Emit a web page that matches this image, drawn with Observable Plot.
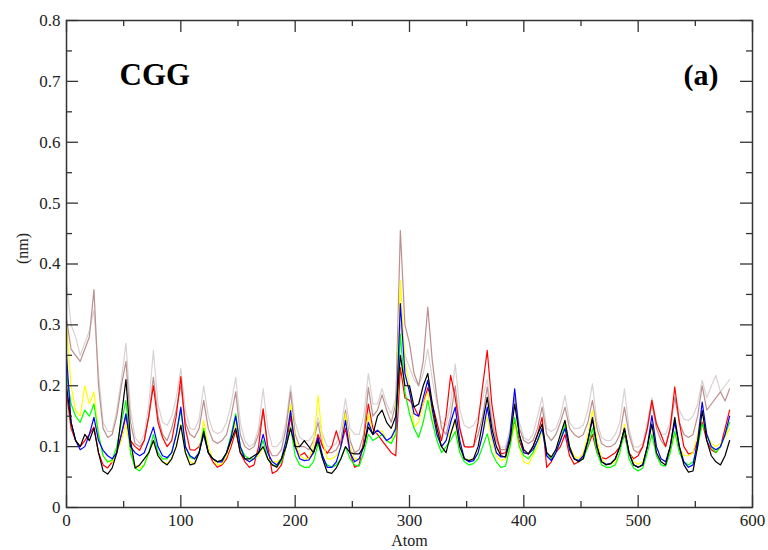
<!DOCTYPE html>
<html><head><meta charset="utf-8">
<script src="https://cdn.jsdelivr.net/npm/d3@7"></script>
<script src="https://cdn.jsdelivr.net/npm/@observablehq/plot@0.6"></script>
<style>body{margin:0;background:#fff}</style>
</head><body><div id="chart"></div>
<script>
// Atom index sampled every 4 atoms (0..580)
const atoms = d3.range(0, 581, 4);

const black = [
0.20,0.14,0.11,0.10,0.12,0.11,0.13,
0.09,0.06,0.055,0.065,0.09,0.15,0.21,
0.11,0.065,0.07,0.08,0.09,0.11,
0.085,0.075,0.07,0.08,0.1,0.135,
0.09,0.07,0.072,0.09,0.125,
0.09,0.08,0.075,0.078,0.09,0.11,0.13,
0.09,0.08,0.08,0.085,0.09,0.1,
0.08,0.07,0.066,0.08,0.1,0.13,
0.1,0.1,0.11,0.1,0.09,0.11,
0.08,0.058,0.056,0.065,0.08,0.1,
0.09,0.088,0.088,0.1,0.132,
0.12,0.15,0.16,0.14,0.13,0.15,0.25,
0.2,0.2,0.165,0.17,0.2,0.22,
0.17,0.13,0.1,0.09,0.12,0.145,
0.1,0.08,0.077,0.08,0.1,0.14,0.181,
0.13,0.1,0.085,0.083,0.11,0.17,
0.12,0.095,0.088,0.1,0.12,0.137,
0.09,0.083,0.095,0.12,0.143,
0.1,0.08,0.075,0.08,0.11,0.145,
0.1,0.075,0.07,0.072,0.08,0.1,0.13,
0.09,0.07,0.066,0.07,0.1,0.137,
0.09,0.075,0.07,0.1,0.148,
0.1,0.07,0.058,0.06,0.1,0.159,
0.11,0.085,0.075,0.07,0.085,0.11];

const red = [
0.19,0.13,0.11,0.10,0.11,0.12,0.132,
0.09,0.07,0.065,0.075,0.09,0.12,0.15,
0.11,0.1,0.094,0.11,0.15,0.2,
0.14,0.115,0.1,0.11,0.15,0.215,
0.13,0.095,0.094,0.1,0.12,
0.09,0.075,0.066,0.07,0.08,0.1,0.126,
0.09,0.075,0.066,0.07,0.1,0.162,
0.1,0.056,0.06,0.07,0.1,0.15,
0.1,0.085,0.09,0.08,0.09,0.12,
0.1,0.089,0.1,0.126,0.1,0.13,
0.09,0.066,0.07,0.11,0.17,
0.13,0.12,0.11,0.1,0.09,0.085,0.23,
0.18,0.176,0.165,0.15,0.17,0.197,
0.17,0.14,0.11,0.15,0.217,0.18,
0.13,0.1,0.099,0.1,0.14,0.2,0.258,
0.17,0.12,0.088,0.09,0.11,0.14,
0.11,0.09,0.088,0.1,0.12,0.148,
0.066,0.075,0.09,0.1,0.12,
0.085,0.071,0.075,0.085,0.1,0.12,
0.09,0.082,0.08,0.085,0.09,0.1,0.12,
0.09,0.08,0.085,0.1,0.13,0.176,
0.137,0.12,0.1,0.13,0.198,
0.14,0.1,0.088,0.09,0.11,0.14,
0.11,0.095,0.09,0.1,0.13,0.16];

const green = [
0.22,0.17,0.15,0.14,0.16,0.15,0.17,
0.12,0.085,0.075,0.078,0.1,0.14,0.176,
0.09,0.065,0.06,0.07,0.09,0.12,
0.09,0.08,0.08,0.09,0.12,0.16,
0.1,0.082,0.08,0.09,0.13,
0.09,0.08,0.075,0.078,0.09,0.12,0.154,
0.1,0.085,0.08,0.08,0.09,0.11,
0.08,0.07,0.068,0.075,0.1,0.132,
0.085,0.07,0.066,0.066,0.075,0.105,
0.08,0.07,0.066,0.07,0.08,0.1,
0.08,0.07,0.068,0.09,0.12,
0.11,0.115,0.12,0.11,0.105,0.12,0.285,
0.19,0.154,0.13,0.115,0.14,0.176,
0.14,0.11,0.09,0.1,0.11,0.125,
0.09,0.075,0.07,0.072,0.08,0.1,0.121,
0.09,0.075,0.066,0.068,0.1,0.148,
0.1,0.085,0.08,0.09,0.11,0.13,
0.09,0.08,0.09,0.11,0.137,
0.095,0.08,0.077,0.08,0.1,0.13,
0.09,0.07,0.066,0.066,0.07,0.09,0.125,
0.08,0.065,0.06,0.065,0.09,0.12,
0.085,0.07,0.068,0.09,0.125,
0.09,0.075,0.07,0.075,0.1,0.137,
0.12,0.1,0.09,0.1,0.12,0.14];

const blue = [
0.25,0.14,0.11,0.095,0.1,0.12,0.148,
0.11,0.094,0.085,0.08,0.09,0.12,0.154,
0.1,0.09,0.085,0.09,0.11,0.132,
0.1,0.085,0.082,0.09,0.12,0.165,
0.1,0.085,0.08,0.09,0.12,
0.09,0.08,0.075,0.075,0.09,0.115,0.15,
0.1,0.08,0.075,0.08,0.09,0.12,
0.09,0.075,0.07,0.08,0.11,0.159,
0.1,0.08,0.077,0.078,0.09,0.115,
0.085,0.066,0.066,0.075,0.1,0.143,
0.09,0.075,0.08,0.1,0.14,
0.12,0.127,0.12,0.11,0.115,0.13,0.335,
0.22,0.19,0.154,0.15,0.18,0.209,
0.16,0.12,0.1,0.11,0.14,0.165,
0.11,0.08,0.075,0.077,0.09,0.12,0.165,
0.12,0.09,0.083,0.083,0.12,0.195,
0.12,0.09,0.088,0.095,0.11,0.13,
0.085,0.077,0.09,0.11,0.13,
0.095,0.08,0.077,0.085,0.11,0.148,
0.1,0.075,0.071,0.072,0.08,0.1,0.13,
0.09,0.07,0.066,0.07,0.1,0.151,
0.1,0.08,0.075,0.1,0.14,
0.1,0.075,0.066,0.07,0.11,0.173,
0.12,0.1,0.095,0.1,0.12,0.15];

const yellow = [
0.30,0.2,0.16,0.15,0.2,0.17,0.19,
0.12,0.085,0.075,0.075,0.09,0.11,0.137,
0.09,0.07,0.065,0.07,0.09,0.11,
0.085,0.075,0.072,0.08,0.1,0.137,
0.09,0.075,0.072,0.09,0.143,
0.1,0.08,0.07,0.072,0.085,0.11,0.14,
0.095,0.08,0.075,0.08,0.085,0.1,
0.08,0.075,0.075,0.08,0.11,0.17,
0.11,0.085,0.08,0.08,0.1,0.184,
0.11,0.08,0.08,0.085,0.1,0.154,
0.1,0.08,0.08,0.1,0.154,
0.12,0.125,0.126,0.11,0.105,0.14,0.373,
0.24,0.197,0.132,0.14,0.17,0.19,
0.15,0.12,0.1,0.11,0.125,0.14,
0.1,0.08,0.078,0.08,0.09,0.12,0.148,
0.11,0.085,0.077,0.08,0.1,0.137,
0.1,0.075,0.071,0.085,0.1,0.126,
0.09,0.08,0.09,0.115,0.143,
0.1,0.085,0.08,0.09,0.12,0.159,
0.11,0.08,0.071,0.071,0.075,0.1,0.137,
0.09,0.075,0.071,0.075,0.1,0.14,
0.1,0.08,0.075,0.09,0.12,
0.1,0.085,0.085,0.09,0.12,0.159,
0.12,0.105,0.1,0.105,0.115,0.13];

const brown = [
0.31,0.26,0.25,0.24,0.26,0.28,0.358,
0.2,0.13,0.115,0.12,0.15,0.2,0.24,
0.14,0.105,0.1,0.11,0.15,0.214,
0.15,0.12,0.11,0.13,0.16,0.2,
0.14,0.12,0.115,0.13,0.176,
0.13,0.11,0.105,0.11,0.12,0.15,0.19,
0.12,0.1,0.095,0.1,0.12,0.16,
0.1,0.085,0.085,0.095,0.13,0.19,
0.12,0.1,0.1,0.095,0.11,0.14,
0.1,0.09,0.09,0.095,0.11,0.16,
0.11,0.09,0.095,0.12,0.197,
0.15,0.16,0.185,0.16,0.14,0.17,0.455,
0.3,0.27,0.22,0.2,0.24,0.329,
0.24,0.18,0.13,0.12,0.15,0.2,
0.13,0.1,0.1,0.1,0.12,0.15,0.198,
0.14,0.11,0.095,0.095,0.12,0.181,
0.13,0.11,0.105,0.11,0.13,0.165,
0.12,0.11,0.12,0.14,0.165,
0.13,0.12,0.115,0.12,0.14,0.176,
0.13,0.105,0.1,0.1,0.105,0.12,0.165,
0.12,0.095,0.09,0.1,0.13,0.17,
0.13,0.11,0.1,0.13,0.181,
0.14,0.12,0.115,0.12,0.15,0.2,
0.16,0.17,0.18,0.19,0.175,0.195];

const grey = [
0.37,0.3,0.28,0.25,0.27,0.29,0.324,
0.22,0.14,0.125,0.125,0.16,0.21,0.27,
0.16,0.115,0.105,0.12,0.17,0.258,
0.17,0.14,0.135,0.15,0.18,0.228,
0.16,0.13,0.128,0.145,0.2,
0.15,0.126,0.121,0.125,0.14,0.17,0.214,
0.14,0.11,0.1,0.105,0.13,0.195,
0.13,0.1,0.1,0.11,0.14,0.2,
0.14,0.115,0.11,0.11,0.12,0.148,
0.12,0.1,0.1,0.105,0.13,0.179,
0.13,0.12,0.12,0.15,0.22,
0.17,0.17,0.195,0.17,0.154,0.18,0.3,
0.25,0.23,0.21,0.2,0.22,0.26,
0.21,0.17,0.14,0.135,0.17,0.236,
0.16,0.135,0.13,0.135,0.15,0.18,0.21,
0.15,0.11,0.099,0.1,0.13,0.18,
0.14,0.115,0.11,0.12,0.15,0.181,
0.13,0.125,0.13,0.15,0.184,
0.14,0.13,0.13,0.135,0.16,0.203,
0.14,0.115,0.11,0.11,0.12,0.14,0.195,
0.13,0.1,0.099,0.105,0.14,0.18,
0.14,0.12,0.12,0.14,0.18,
0.16,0.145,0.143,0.15,0.17,0.209,
0.18,0.2,0.217,0.19,0.2,0.21];

// series names are not CSS colour words, so the colour scale maps them
const seriesNames = ["set 7", "set 6", "set 2", "set 5", "set 3", "set 4", "set 1"];
const seriesColors = ["#d9d2d2", "#bc8f8f", "#ff0000", "#ffff00", "#00ff00", "#0000ff", "#000000"];
const seriesValues = [grey, brown, red, yellow, green, blue, black];

const xMajor = [0, 100, 200, 300, 400, 500, 600];
const xMinor = [50, 150, 250, 350, 450, 550];
const yMajor = [0, 0.1, 0.2, 0.3, 0.4, 0.5, 0.6, 0.7, 0.8];
const yMinor = [0.05, 0.15, 0.25, 0.35, 0.45, 0.55, 0.65, 0.75];

const rows = seriesNames.flatMap((s, k) =>
  atoms.map((a, i) => ({atom: a, value: seriesValues[k][i], series: s})));

const W = 768, H = 550, mL = 66, mR = 16, mT = 20, mB = 43;
const fw = W - mL - mR, fh = H - mT - mB;
const axisColor = "#333";
const serif = "'Liberation Serif', 'DejaVu Serif', serif";

const chart = Plot.plot({
  width: W, height: H,
  marginLeft: mL, marginRight: mR, marginTop: mT, marginBottom: mB,
  style: {fontFamily: serif, fontSize: "17px", color: "#222", background: "#fff"},
  x: {domain: [0, 600]},
  y: {domain: [0, 0.8]},
  color: {type: "ordinal", domain: seriesNames, range: seriesColors},
  marks: [
    Plot.line(rows, {x: "atom", y: "value", z: "series", stroke: "series", strokeWidth: 1.2}),
    // inward ticks on all four sides
    Plot.ruleX(xMajor, {x: d => d, insetTop: fh - 12, stroke: axisColor, strokeWidth: 1.3}),
    Plot.ruleX(xMajor, {x: d => d, insetBottom: fh - 12, stroke: axisColor, strokeWidth: 1.3}),
    Plot.ruleX(xMinor, {x: d => d, insetTop: fh - 6, stroke: axisColor, strokeWidth: 1.3}),
    Plot.ruleX(xMinor, {x: d => d, insetBottom: fh - 6, stroke: axisColor, strokeWidth: 1.3}),
    Plot.ruleY(yMajor, {y: d => d, insetRight: fw - 12, stroke: axisColor, strokeWidth: 1.3}),
    Plot.ruleY(yMajor, {y: d => d, insetLeft: fw - 12, stroke: axisColor, strokeWidth: 1.3}),
    Plot.ruleY(yMinor, {y: d => d, insetRight: fw - 6, stroke: axisColor, strokeWidth: 1.3}),
    Plot.ruleY(yMinor, {y: d => d, insetLeft: fw - 6, stroke: axisColor, strokeWidth: 1.3}),
    Plot.frame({stroke: axisColor, strokeWidth: 1.5}),
    Plot.axisX(xMajor, {tickSize: 0, tickPadding: 6, label: null, fontSize: 17, fontFamily: serif}),
    Plot.axisY(yMajor, {tickSize: 0, tickPadding: 6, label: null, fontSize: 17, fontFamily: serif, tickFormat: d => d === 0 ? "0" : d3.format(".1f")(d)}),
    Plot.text(["Atom"], {frameAnchor: "bottom", dy: 38, fontSize: 16, fontFamily: serif, fill: "#222"}),
    Plot.text(["(nm)"], {frameAnchor: "left", dx: -44, rotate: -90, fontSize: 16, fontFamily: serif, fill: "#222"}),
    Plot.text(["CGG"], {frameAnchor: "top-left", dx: 53, dy: 42, textAnchor: "start", lineAnchor: "top", fontSize: 31, fontWeight: "bold", fontFamily: serif, fill: "#000"}),
    Plot.text(["(a)"], {frameAnchor: "top-right", dx: -34, dy: 43, textAnchor: "end", lineAnchor: "top", fontSize: 30, fontWeight: "bold", fontFamily: serif, fill: "#000"})
  ]
});
document.getElementById("chart").appendChild(chart);
</script>
</body></html>
